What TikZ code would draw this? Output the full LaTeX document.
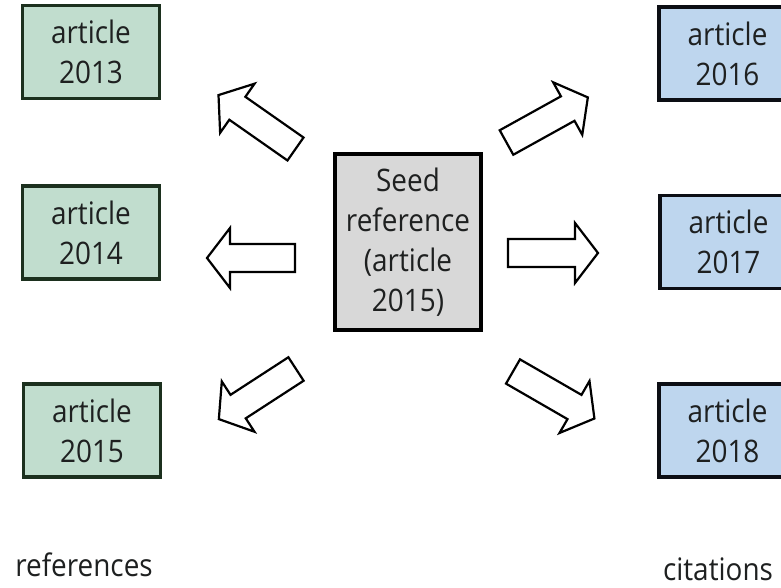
\documentclass[tikz,border=0pt]{standalone}
\usepackage{fontspec}
\setmainfont{Open Sans}[FakeStretch=0.9]
\definecolor{reffill}{RGB}{193,221,206}
\definecolor{refborder}{RGB}{28,48,30}
\definecolor{citfill}{RGB}{190,214,238}
\definecolor{citborder}{RGB}{12,14,20}
\definecolor{seedfill}{RGB}{216,216,216}
\definecolor{txt}{RGB}{30,32,32}
\tikzset{
  refbox/.style={draw=refborder, fill=reffill, line width=3.8pt, minimum width=137pt,
    minimum height=93pt, inner sep=0pt, align=center,
    font=\fontsize{31}{40}\selectfont, text=txt},
  citbox/.style={refbox, draw=citborder, fill=citfill},
  seedbox/.style={refbox, draw=black, fill=seedfill, line width=3.5pt, minimum width=146pt, minimum height=176pt},
  blockarrow/.style={draw=black, fill=white, line width=2.2pt, line join=miter},
  lbl/.style={font=\fontsize{31}{40}\selectfont, text=txt, inner sep=0pt, anchor=base}
}
\newcommand\blockarr[4]{% x, y, angle, length
  \draw[blockarrow, shift={(#1,#2)}, rotate=#3]
    (0,-14) -- ({#4-23},-14) -- ({#4-23},-30) -- (#4,0) -- ({#4-23},30) -- ({#4-23},14) -- (0,14) -- cycle;}
\begin{document}
\begin{tikzpicture}[x=1pt,y=-1pt]
\useasboundingbox (0,0) rectangle (781,588);
\fill[white] (0,0) rectangle (781,588);
% reference boxes
\node[refbox] (r13) at (91,52) {article\\2013};
\node[refbox] (r14) at (91,232.5) {article\\2014};
\node[refbox] (r15) at (92,430.5) {article\\2015};
% citation boxes
\node[citbox] (c16) at (727.5,53.5) {article\\2016};
\node[citbox] (c17) at (728.5,242) {article\\2017};
\node[citbox] (c18) at (727.5,430.5) {article\\2018};
% seed
\node[seedbox] (seed) at (408,242) {Seed\\reference\\(article\\2015)};
% block arrows
\blockarr{295.5}{149}{145}{94}
\blockarr{295}{258}{180}{88}
\blockarr{296}{369}{213}{92}
\blockarr{506.5}{142.5}{29}{93}
\blockarr{508}{253}{0}{90}
\blockarr{513}{371.5}{-30}{94}
% labels
\node[lbl] (refs) at (84,576) {references};
\node[lbl] (cits) at (718,580) {citations};
\end{tikzpicture}
\end{document}
